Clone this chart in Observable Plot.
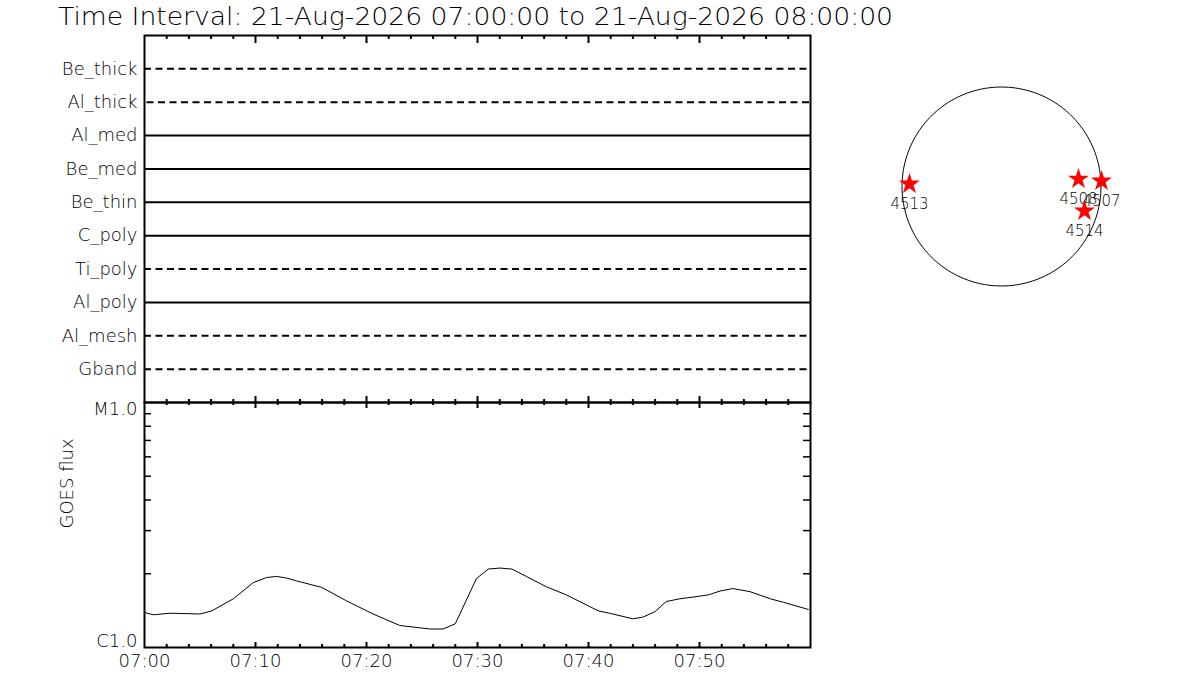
<!DOCTYPE html>
<html><head><meta charset="utf-8">
<script src="https://cdn.jsdelivr.net/npm/d3@7"></script>
<script src="https://cdn.jsdelivr.net/npm/@observablehq/plot@0.6"></script>
<style>
body{margin:0;background:#fff;}
#wrap{position:relative;width:1200px;height:700px;background:#fff;overflow:hidden;font-family:"DejaVu Sans",sans-serif;color:#000;}
#wrap svg{position:absolute;overflow:visible;background:transparent;}
#title{position:absolute;left:58px;top:4px;font-size:25px;line-height:25px;white-space:nowrap;transform-origin:0 0;font-weight:200;}
</style></head><body>
<div id="wrap"><div id="title">Time Interval: 21-Aug-2026 07:00:00 to 21-Aug-2026 08:00:00</div></div>
<script>
// ---- data ----
const channels = ["Be_thick","Al_thick","Al_med","Be_med","Be_thin","C_poly","Ti_poly","Al_poly","Al_mesh","Gband"];
const channelStyles = ["dash","dash2","solid","solid","solid","solid","dash","solid","dash","dash"];

const goesMinutes = [0, 0.8, 2.3, 5.0, 6.05, 8.0, 9.8, 11.0, 11.9, 12.8, 13.7, 15.96, 18.2, 20.6, 23.0, 25.7, 26.9, 28.0, 29.9, 30.97, 32.0, 33.1, 34.4, 36.2, 38.0, 40.9, 41.9, 43.98, 44.9, 45.98, 47.0, 48.2, 49.6, 50.8, 51.85, 53.0, 54.55, 56.4, 57.55, 59.8];
const goesFlux = [1.39e-6, 1.36e-6, 1.38e-6, 1.37e-6, 1.41e-6, 1.58e-6, 1.84e-6, 1.93e-6, 1.95e-6, 1.92e-6, 1.87e-6, 1.76e-6, 1.55e-6, 1.37e-6, 1.23e-6, 1.19e-6, 1.19e-6, 1.25e-6, 1.91e-6, 2.09e-6, 2.11e-6, 2.09e-6, 1.95e-6, 1.77e-6, 1.64e-6, 1.41e-6, 1.38e-6, 1.31e-6, 1.33e-6, 1.40e-6, 1.54e-6, 1.58e-6, 1.61e-6, 1.64e-6, 1.70e-6, 1.74e-6, 1.69e-6, 1.58e-6, 1.53e-6, 1.43e-6];

const timeTickLabels = ["07:00","07:10","07:20","07:30","07:40","07:50"];
const timeTickMinutes = [0, 10, 20, 30, 40, 50];
const minorTickMinutes = [2,4,6,8,12,14,16,18,22,24,26,28,32,34,36,38,42,44,46,48,52,54,56,58];
const majorTickMinutes = [10,20,30,40,50];
const fluxTickLabels = ["C1.0","M1.0"];
const fluxTickValues = [1e-6, 1e-5];
const fluxMinorTicks = [2e-6,3e-6,4e-6,5e-6,6e-6,7e-6,8e-6,9e-6];

const arNames = ["4513","4508","4507","4514"];
const arX = [-888, 743, 965, 801];     // arcsec
const arY = [24, 72, 53, -236];        // arcsec
const solarRadius = 960;               // arcsec

// ---- helpers ----
const FONT = '"DejaVu Sans", sans-serif';
const t0 = Date.UTC(2026, 7, 21, 7, 0, 0);
const toDate = m => new Date(t0 + m * 60000);
const xDomain = [toDate(0), toDate(60)];
const minorT = minorTickMinutes.map(toDate);
const majorT = majorTickMinutes.map(toDate);
const chanData = channels.map((name, i) => ({name, pos: i + 1, style: channelStyles[i]}));
const goes = goesMinutes.map((m, i) => ({t: toDate(m), v: goesFlux[i]}));
const xLabels = timeTickLabels.map((s, i) => ({t: toDate(timeTickMinutes[i]), s}));
const yLabels = fluxTickLabels.map((s, i) => ({v: fluxTickValues[i], s}));
const ars = arNames.map((n, i) => ({n, x: arX[i], y: arY[i]}));
const limb = d3.range(0, 361, 2).map(a => ({x: solarRadius * Math.cos(a * Math.PI / 180), y: solarRadius * Math.sin(a * Math.PI / 180)}));

const W = 830, ML = 144, MR = 20;
const FW = W - ML - MR;
const wrap = document.getElementById("wrap");

// ---- top panel ----
const H1 = 410, MT1 = 35, MB1 = 8, FH1 = H1 - MT1 - MB1;
const p1 = Plot.plot({
  width: W, height: H1, marginLeft: ML, marginRight: MR, marginTop: MT1, marginBottom: MB1,
  style: {fontFamily: FONT, background: "transparent"},
  x: {type: "utc", domain: xDomain, axis: null},
  y: {domain: [0, 11], reverse: true, axis: null},
  marks: [
    Plot.ruleY(chanData.filter(d => d.style === "solid"), {y: "pos", stroke: "black", strokeWidth: 2}),
    Plot.ruleY(chanData.filter(d => d.style === "dash"), {y: "pos", stroke: "black", strokeWidth: 2, strokeDasharray: "7,4.5"}),
    Plot.ruleY(chanData.filter(d => d.style === "dash2"), {y: "pos", stroke: "black", strokeWidth: 2, strokeDasharray: "7,4.5", strokeDashoffset: 9}),
    Plot.text(chanData, {y: "pos", text: "name", frameAnchor: "left", textAnchor: "end", dx: -7, fontSize: 18, fill: "black", fontWeight: 200}),
    Plot.ruleX(minorT, {x: d => d, insetBottom: FH1 - 4, strokeWidth: 2}),
    Plot.ruleX(majorT, {x: d => d, insetBottom: FH1 - 8, strokeWidth: 2}),
    Plot.ruleX(minorT, {x: d => d, insetTop: FH1 - 3, strokeWidth: 2}),
    Plot.ruleX(majorT, {x: d => d, insetTop: FH1 - 6, strokeWidth: 2}),
    Plot.frame({stroke: "black", strokeWidth: 2})
  ]
});
p1.style.left = "0px"; p1.style.top = "0px";
wrap.appendChild(p1);

// ---- GOES panel ----
const TOP2 = 395, H2 = 300, MT2 = 7, MB2 = 48, FH2 = H2 - MT2 - MB2;
const p2 = Plot.plot({
  width: W, height: H2, marginLeft: ML, marginRight: MR, marginTop: MT2, marginBottom: MB2,
  style: {fontFamily: FONT, background: "transparent"},
  x: {type: "utc", domain: xDomain, axis: null},
  y: {type: "log", domain: [1e-6, 1e-5], axis: null},
  marks: [
    Plot.line(goes, {x: "t", y: "v", stroke: "black", strokeWidth: 1}),
    Plot.ruleY(fluxMinorTicks, {y: d => d, insetRight: FW - 7, strokeWidth: 1.5}),
    Plot.ruleY(fluxMinorTicks, {y: d => d, insetLeft: FW - 7, strokeWidth: 1.5}),
    Plot.ruleX(minorT, {x: d => d, insetBottom: FH2 - 3, strokeWidth: 2}),
    Plot.ruleX(majorT, {x: d => d, insetBottom: FH2 - 6, strokeWidth: 2}),
    Plot.ruleX(minorT, {x: d => d, insetTop: FH2 - 3, strokeWidth: 2}),
    Plot.ruleX(majorT, {x: d => d, insetTop: FH2 - 5, strokeWidth: 2}),
    Plot.text(xLabels, {x: "t", text: "s", frameAnchor: "bottom", dy: 19, fontSize: 18, fill: "black", fontWeight: 200}),
    Plot.text(yLabels.filter(d => d.v > 5e-6), {y: "v", text: "s", frameAnchor: "left", textAnchor: "end", dx: -7, dy: 6.5, fontSize: 18, fill: "black", fontWeight: 200}),
    Plot.text(yLabels.filter(d => d.v < 5e-6), {y: "v", text: "s", frameAnchor: "left", textAnchor: "end", dx: -7, dy: -6, fontSize: 18, fill: "black", fontWeight: 200}),
    Plot.text(["GOES flux"], {text: d => d, frameAnchor: "left", dx: -77, dy: 3.5, rotate: -90, fontSize: 18, fill: "black", fontWeight: 200}),
    Plot.frame({stroke: "black", strokeWidth: 2})
  ]
});
p2.style.left = "0px"; p2.style.top = TOP2 + "px";
wrap.appendChild(p2);

// ---- solar disk ----
const p3 = Plot.plot({
  width: 320, height: 280, marginLeft: 60, marginRight: 60, marginTop: 40, marginBottom: 40,
  style: {fontFamily: FONT, background: "transparent"},
  x: {domain: [-965, 965], axis: null},
  y: {domain: [-965, 965], axis: null},
  marks: [
    Plot.line(limb, {x: "x", y: "y", stroke: "black", strokeWidth: 1}),
    Plot.text(ars, {x: "x", y: "y", text: "n", dy: 20, fontSize: 15, fill: "black", fontWeight: 200}),
    Plot.dot(ars, {x: "x", y: "y", symbol: "star", r: 6.6, fill: "#ff0000", stroke: "none"})
  ]
});
p3.style.left = "841px"; p3.style.top = "45.5px";
wrap.appendChild(p3);

// fit title width
const title = document.getElementById("title");
const tw = title.getBoundingClientRect().width;
title.style.transform = `scaleX(${835 / tw})`;
</script>
</body></html>
